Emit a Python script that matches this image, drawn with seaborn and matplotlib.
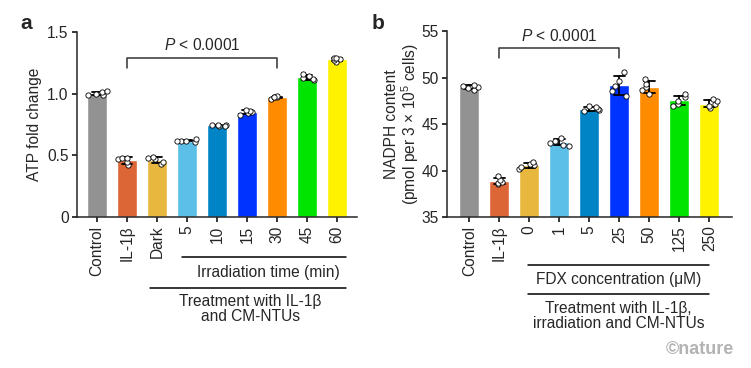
import numpy as np
import pandas as pd
import matplotlib.pyplot as plt
import matplotlib.transforms as mtransforms
import seaborn as sns

sns.set_style("ticks")
plt.rcParams['font.family'] = ['Liberation Sans', 'DejaVu Sans']
plt.rcParams['mathtext.fontset'] = 'custom'
plt.rcParams['mathtext.rm'] = 'Liberation Sans'
plt.rcParams['mathtext.it'] = 'Liberation Sans:italic'

# panel a: ATP fold change, 5 replicates per group
groups_a = ["Control", "IL-1β", "Dark", "5", "10", "15", "30", "45", "60"]
atp = [
    [0.99, 0.99, 1.00, 1.01, 1.02],
    [0.42, 0.45, 0.47, 0.48, 0.48],
    [0.43, 0.45, 0.47, 0.48, 0.49],
    [0.61, 0.62, 0.62, 0.63, 0.62],
    [0.74, 0.745, 0.745, 0.75, 0.74],
    [0.83, 0.84, 0.85, 0.86, 0.87],
    [0.96, 0.97, 0.97, 0.98, 0.97],
    [1.11, 1.12, 1.13, 1.14, 1.16],
    [1.26, 1.27, 1.28, 1.29, 1.29],
]

# panel b: NADPH content
groups_b = ["Control", "IL-1β", "0", "1", "5", "25", "50", "125", "250"]
nadph = [
    [48.7, 48.9, 49.0, 49.1, 49.2],
    [38.6, 38.7, 38.8, 39.0, 39.4],
    [40.2, 40.4, 40.6, 40.7, 40.9],
    [42.7, 42.8, 43.0, 43.2, 43.5],
    [46.4, 46.5, 46.6, 46.8, 47.0],
    [48.0, 48.6, 49.1, 49.6, 50.6],
    [48.2, 48.7, 49.0, 49.3, 49.9],
    [47.0, 47.2, 47.5, 47.9, 48.2],
    [46.7, 47.0, 47.2, 47.5, 47.7],
]

colors = ["#929292", "#DD6636", "#E8B73D", "#5CBFE8", "#0084C6",
          "#0033FF", "#FF8C00", "#00E400", "#FFF200"]


def long_df(groups, values):
    rows = []
    for g, vals in zip(groups, values):
        for v in vals:
            rows.append((g, v))
    return pd.DataFrame(rows, columns=["group", "value"])


df_a = long_df(groups_a, atp)
df_b = long_df(groups_b, nadph)

fig = plt.figure(figsize=(7.51, 3.68), dpi=100)
ax_a = fig.add_axes([0.1025, 0.410, 0.373, 0.503])
ax_b = fig.add_axes([0.595, 0.410, 0.3795, 0.505])

fs = 11.2
np.random.seed(7)


def draw(ax, df, groups):
    sns.barplot(data=df, x="group", y="value", hue="group", order=groups,
                hue_order=groups, palette=colors, legend=False, width=0.67,
                errorbar="sd", capsize=0.35, saturation=1,
                err_kws={"linewidth": 1.3, "color": "black"}, ax=ax)
    sns.stripplot(data=df, x="group", y="value", order=groups, color="white",
                  edgecolor="black", linewidth=0.6, size=3.8, jitter=0.34,
                  ax=ax)
    sns.despine(ax=ax)
    for s in ["left", "bottom"]:
        ax.spines[s].set_linewidth(1.1)
    ax.tick_params(width=1.1, length=3.5, pad=2.5, labelsize=fs, color="black")
    ax.set_xticks(range(len(groups)))
    ax.set_xticklabels(groups, rotation=90)
    ax.set_xlabel("")


draw(ax_a, df_a, groups_a)
ax_a.set_xlim(-0.667, 8.667)
ax_a.set_ylim(0, 1.5)
ax_a.set_yticks([0, 0.5, 1.0, 1.5])
ax_a.set_yticklabels(["0", "0.5", "1.0", "1.5"])
ax_a.set_ylabel("ATP fold change", fontsize=fs, labelpad=4)

draw(ax_b, df_b, groups_b)
ax_b.set_xlim(-0.75, 8.75)
ax_b.set_ylim(35, 55)
ax_b.set_yticks([35, 40, 45, 50, 55])
ax_b.set_ylabel("NADPH content\n(pmol per 3 × 10$^{5}$ cells)", fontsize=fs,
                labelpad=0, linespacing=1.05)

# significance brackets
ax_a.plot([1, 1, 6, 6], [1.208, 1.289, 1.289, 1.208], color="#333333",
          lw=1.1, clip_on=False)
ax_a.text(3.5, 1.33, "$\\it{P}$ < 0.0001", ha="center", va="bottom", fontsize=fs)
ax_b.plot([1, 1, 5, 5], [52.1, 53.17, 53.17, 52.1], color="#333333",
          lw=1.1, clip_on=False)
ax_b.text(3.0, 53.65, "$\\it{P}$ < 0.0001", ha="center", va="bottom", fontsize=fs)

# group annotations under axis
tr_a = mtransforms.blended_transform_factory(ax_a.transData, ax_a.transAxes)
ax_a.plot([2.83, 8.3], [-0.216, -0.216], color="black", lw=1.1,
          transform=tr_a, clip_on=False)
ax_a.text(5.7, -0.30, "Irradiation time (min)", transform=tr_a, ha="center",
          va="center", fontsize=fs)
ax_a.plot([1.77, 8.3], [-0.384, -0.384], color="black", lw=1.1,
          transform=tr_a, clip_on=False)
ax_a.text(5.1, -0.415, "Treatment with IL-1β\nand CM-NTUs", transform=tr_a,
          ha="center", va="top", fontsize=fs, linespacing=1.0)

tr_b = mtransforms.blended_transform_factory(ax_b.transData, ax_b.transAxes)
ax_b.plot([1.97, 8.0], [-0.258, -0.258], color="black", lw=1.1,
          transform=tr_b, clip_on=False)
ax_b.text(4.97, -0.333, "FDX concentration (μM)", transform=tr_b, ha="center",
          va="center", fontsize=fs)
ax_b.plot([1.97, 8.0], [-0.414, -0.414], color="black", lw=1.1,
          transform=tr_b, clip_on=False)
ax_b.text(4.97, -0.45, "Treatment with IL-1β,\nirradiation and CM-NTUs",
          transform=tr_b, ha="center", va="top", fontsize=fs, linespacing=1.0)

# panel letters and credit
fig.text(0.027, 0.935, "a", fontsize=15, fontweight="bold", ha="left", va="center")
fig.text(0.495, 0.935, "b", fontsize=15, fontweight="bold", ha="left", va="center")
fig.text(0.978, 0.028, "©nature", fontsize=13, fontweight="bold",
         color="#b3b3b3", ha="right", va="bottom")

fig.savefig("out.png", dpi=100)
